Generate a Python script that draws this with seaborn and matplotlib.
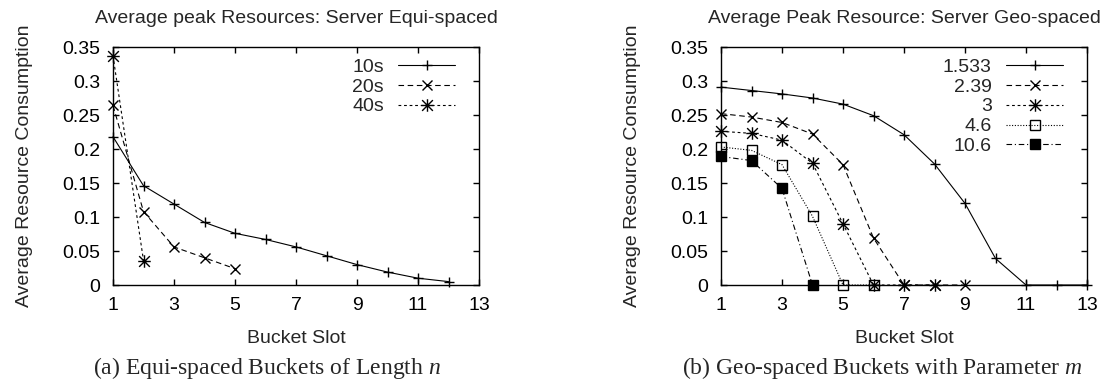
import matplotlib
matplotlib.use("Agg")
import matplotlib.pyplot as plt
from matplotlib.path import Path
import seaborn as sns
import numpy as np

# ---------------- data ----------------
equi_x_10s = [1, 2, 3, 4, 5, 6, 7, 8, 9, 10, 11, 12]
equi_y_10s = [0.218, 0.146, 0.119, 0.092, 0.076, 0.067, 0.056, 0.043, 0.030, 0.019, 0.010, 0.005]
equi_x_20s = [1, 2, 3, 4, 5]
equi_y_20s = [0.264, 0.108, 0.056, 0.040, 0.024]
equi_x_40s = [1, 2]
equi_y_40s = [0.337, 0.036]
equi_labels = ["10s", "20s", "40s"]

geo_x_1533 = [1, 2, 3, 4, 5, 6, 7, 8, 9, 10, 11, 12, 13]
geo_y_1533 = [0.291, 0.286, 0.281, 0.275, 0.266, 0.249, 0.221, 0.178, 0.120, 0.039, 0.0, 0.0, 0.0]
geo_x_239 = [1, 2, 3, 4, 5, 6, 7, 8, 9]
geo_y_239 = [0.252, 0.247, 0.239, 0.222, 0.177, 0.069, 0.0, 0.0, 0.0]
geo_x_3 = [1, 2, 3, 4, 5, 6, 7, 8]
geo_y_3 = [0.226, 0.223, 0.213, 0.179, 0.090, 0.0, 0.0, 0.0]
geo_x_46 = [1, 2, 3, 4, 5, 6]
geo_y_46 = [0.203, 0.198, 0.177, 0.101, 0.0, 0.0]
geo_x_106 = [1, 2, 3, 4]
geo_y_106 = [0.189, 0.183, 0.142, 0.0]
geo_labels = ["1.533", "2.39", "3", "4.6", "10.6"]

x_ticks = [1, 3, 5, 7, 9, 11, 13]
y_ticks = [0, 0.05, 0.1, 0.15, 0.2, 0.25, 0.3, 0.35]
y_tick_labels = ["0", "0.05", "0.1", "0.15", "0.2", "0.25", "0.3", "0.35"]

titles = ["Average peak Resources: Server Equi-spaced",
          "Average Peak Resource: Server Geo-spaced"]
x_label = "Bucket Slot"
y_label = "Average Resource Consumption"
captions = [r"(a) Equi-spaced Buckets of Length $n$",
            r"(b) Geo-spaced Buckets with Parameter $m$"]

# ---------------- style ----------------
sns.set_style("ticks")
plt.rcParams["font.family"] = ["Liberation Sans", "DejaVu Sans"]
plt.rcParams["mathtext.fontset"] = "custom"
plt.rcParams["mathtext.it"] = "Liberation Serif:italic"
plt.rcParams["mathtext.rm"] = "Liberation Serif"
plt.rcParams["lines.scale_dashes"] = False

FS = 14
W, H = 1107, 382
fig = plt.figure(figsize=(W / 100, H / 100), dpi=100)

ax_w = 366 / W
ax_h = 238 / H
ax_b = 1 - 285 / H
axL = fig.add_axes([113 / W, ax_b, ax_w, ax_h])
axR = fig.add_axes([721 / W, ax_b, ax_w, ax_h])

solid = "-"
dashed = (0, (4.0, 2.6))
shortdash = (0, (2.0, 2.0))
dotted = (0, (0.8, 1.2))
dashdot = (0, (4.0, 2.0, 0.8, 2.0))
# gnuplot-style asterisk: a plus and a cross on top of each other
asterisk = Path([(-0.7, 0), (0.7, 0), (0, -0.7), (0, 0.7),
                 (-0.6, -0.6), (0.6, 0.6), (-0.6, 0.6), (0.6, -0.6)],
                [Path.MOVETO, Path.LINETO] * 4)
MS = 7
LW = 0.8


def draw(ax, xs, ys, label, ls, marker, fill="none", ms=MS):
    sns.lineplot(x=xs, y=ys, ax=ax, color="black", linewidth=LW, linestyle=ls,
                 marker=marker, markersize=ms, markeredgewidth=1.0,
                 markeredgecolor="black", markerfacecolor=fill,
                 label=label, clip_on=False, zorder=3)


draw(axL, equi_x_10s, equi_y_10s, equi_labels[0], solid, "+")
draw(axL, equi_x_20s, equi_y_20s, equi_labels[1], dashed, "x")
draw(axL, equi_x_40s, equi_y_40s, equi_labels[2], shortdash, asterisk, ms=9)

draw(axR, geo_x_1533, geo_y_1533, geo_labels[0], solid, "+")
draw(axR, geo_x_239, geo_y_239, geo_labels[1], dashed, "x")
draw(axR, geo_x_3, geo_y_3, geo_labels[2], shortdash, asterisk, ms=9)
draw(axR, geo_x_46, geo_y_46, geo_labels[3], dotted, "s", "none", ms=6.5)
draw(axR, geo_x_106, geo_y_106, geo_labels[4], dashdot, "s", "black", ms=6.5)

for ax, title in [(axL, titles[0]), (axR, titles[1])]:
    ax.set_xlim(1, 13)
    ax.set_ylim(0, 0.35)
    ax.set_xticks(x_ticks)
    ax.set_xticklabels([str(t) for t in x_ticks])
    ax.set_yticks(y_ticks)
    ax.set_yticklabels(y_tick_labels)
    ax.tick_params(axis="both", direction="in", length=4.5, width=1.0,
                   top=True, right=True, labelsize=FS, colors="black")
    ax.tick_params(axis="x", pad=8.5)
    ax.tick_params(axis="y", pad=9)
    for sp in ax.spines.values():
        sp.set_visible(True)
        sp.set_linewidth(1.0)
        sp.set_color("black")
    ax.set_title(title, fontsize=FS, pad=17.5)
    ax.set_xlabel(x_label, fontsize=FS, labelpad=12)
    ax.set_ylabel(y_label, fontsize=FS, labelpad=21)
    ax.legend(loc="upper right", bbox_to_anchor=(0.935, 0.953), frameon=False,
              fontsize=FS, markerfirst=False, handlelength=2.95,
              handletextpad=0.72, labelspacing=0.115, borderpad=0,
              borderaxespad=0, numpoints=1)

fig.text(267 / W, 1 - 368 / H, captions[0], ha="center", va="center",
         fontsize=17, family="Liberation Serif")
fig.text(882 / W, 1 - 368 / H, captions[1], ha="center", va="center",
         fontsize=17, family="Liberation Serif")

fig.savefig("out.png", dpi=100)
